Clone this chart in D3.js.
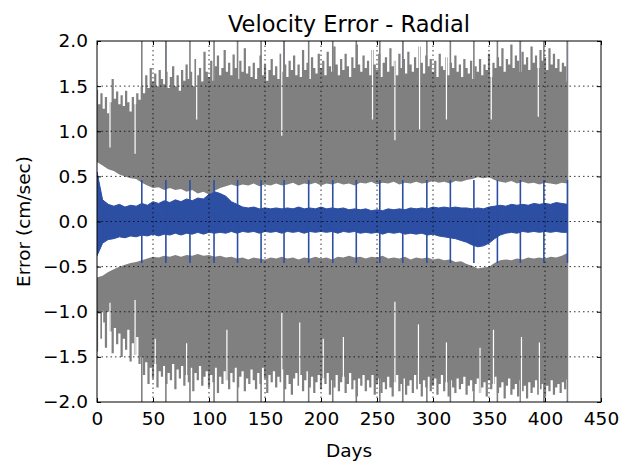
<!DOCTYPE html>
<html><head><meta charset="utf-8">
<script src="https://cdn.jsdelivr.net/npm/d3@7"></script>
<style>body{margin:0;background:#fff}svg{display:block}text{font-family:"DejaVu Sans",sans-serif}</style>
</head><body><svg id="c" width="622" height="461"></svg>
<script>
// ---- data (days, cm/sec) ----
const title = "Velocity Error - Radial";
const xLabel = "Days", yLabel = "Error (cm/sec)";
const xTicks = [0,50,100,150,200,250,300,350,400,450];
const yTicks = [-2.0,-1.5,-1.0,-0.5,0.0,0.5,1.0,1.5,2.0];
const days2 = d3.range(0, 421, 2);   // sample days of the 3-sigma outer envelopes
const days5 = d3.range(0, 421, 5);   // sample days of the inner edges and the error band
// upper 3-sigma bound, outer (peak) envelope, every 2 days
const sigHiOuter = [1.46,1.30,1.42,1.25,1.38,1.20,1.32,1.58,1.36,1.44,
 1.30,1.40,1.28,1.45,1.32,1.22,1.38,1.30,1.42,1.35,
 1.50,1.42,1.62,1.48,1.70,1.55,1.64,1.50,1.68,1.58,
 1.52,1.66,1.48,1.60,1.72,1.50,1.62,1.45,1.68,1.56,
 1.74,1.58,1.66,1.50,1.80,1.62,1.70,1.55,1.88,1.66,
 1.60,1.78,1.56,1.72,1.84,1.62,1.70,1.90,1.66,1.76,
 1.62,1.85,1.70,1.58,1.78,1.66,1.92,1.64,1.72,1.60,
 1.76,1.58,1.70,1.84,1.62,1.74,1.56,1.68,1.80,1.62,
 1.72,1.58,1.86,1.66,1.74,1.60,1.78,1.68,1.84,1.62,
 1.74,1.60,1.90,1.68,1.76,1.58,1.82,1.70,1.64,1.86,
 1.70,1.78,1.62,1.88,1.72,1.66,1.94,1.74,1.62,1.80,
 1.68,1.86,1.72,1.60,1.82,1.70,1.96,1.74,1.66,1.84,
 1.70,1.78,1.62,1.90,1.74,1.68,1.86,1.60,1.76,1.82,
 1.66,1.92,1.72,1.78,1.62,1.86,1.70,1.80,1.64,1.88,
 1.74,1.66,1.82,1.70,1.94,1.76,1.64,1.84,1.72,1.80,
 1.66,1.78,1.60,1.86,1.72,1.68,1.82,1.62,1.76,1.70,
 1.84,1.66,1.74,1.60,1.80,1.70,1.64,1.78,1.58,1.72,
 1.66,1.80,1.62,1.74,1.68,1.86,1.60,1.76,1.70,1.82,
 1.72,1.92,1.66,1.80,1.74,1.96,1.70,1.84,1.78,1.66,
 1.88,1.74,1.82,1.68,1.94,1.76,1.84,1.70,1.90,1.78,
 1.82,1.68,1.92,1.74,1.86,1.70,1.80,1.66,1.76,1.72,
 1.55];
// lower 3-sigma bound, outer (peak) envelope, every 2 days
const sigLoOuter = [-1.44,-1.02,-1.30,-1.12,-1.40,-1.00,-1.22,-1.46,-1.18,-1.36,
 -1.24,-1.50,-1.30,-1.42,-1.20,-1.55,-1.35,-1.48,-1.28,-1.58,
 -1.50,-1.70,-1.56,-1.80,-1.62,-1.74,-1.58,-1.84,-1.66,-1.72,
 -1.60,-1.80,-1.68,-1.76,-1.58,-1.86,-1.64,-1.74,-1.60,-1.82,
 -1.70,-1.78,-1.62,-1.88,-1.68,-1.76,-1.60,-1.82,-1.72,-1.66,
 -1.84,-1.70,-1.78,-1.62,-1.90,-1.72,-1.80,-1.66,-1.76,-1.86,
 -1.68,-1.78,-1.62,-1.84,-1.72,-1.66,-1.88,-1.74,-1.80,-1.64,
 -1.76,-1.86,-1.68,-1.80,-1.62,-1.74,-1.90,-1.70,-1.78,-1.66,
 -1.84,-1.72,-1.78,-1.64,-1.86,-1.70,-1.80,-1.92,-1.74,-1.68,
 -1.82,-1.70,-1.88,-1.76,-1.66,-1.84,-1.72,-1.90,-1.78,-1.70,
 -1.86,-1.74,-1.80,-1.68,-1.92,-1.76,-1.84,-1.70,-1.88,-1.78,
 -1.72,-1.90,-1.80,-1.68,-1.86,-1.76,-1.94,-1.74,-1.82,-1.70,
 -1.88,-1.76,-1.84,-1.70,-1.92,-1.80,-1.74,-1.90,-1.78,-1.86,
 -1.72,-1.84,-1.94,-1.78,-1.70,-1.88,-1.80,-1.74,-1.92,-1.82,
 -1.76,-1.90,-1.70,-1.86,-1.80,-1.94,-1.76,-1.84,-1.72,-1.88,
 -1.82,-1.74,-1.92,-1.80,-1.70,-1.88,-1.78,-1.94,-1.76,-1.84,
 -1.90,-1.74,-1.86,-1.80,-1.72,-1.92,-1.82,-1.76,-1.88,-1.80,
 -1.74,-1.90,-1.84,-1.78,-1.94,-1.76,-1.86,-1.80,-1.72,-1.90,
 -1.84,-1.78,-1.96,-1.82,-1.74,-1.92,-1.86,-1.80,-1.94,-1.76,
 -1.88,-1.82,-1.96,-1.78,-1.90,-1.84,-1.76,-1.92,-1.86,-1.80,
 -1.94,-1.82,-1.88,-1.76,-1.92,-1.84,-1.80,-1.90,-1.78,-1.86,
 -1.75];
// inner edges of the 3-sigma bands, every 5 days
const sigHiInner = [0.66,0.62,0.58,0.56,0.52,0.50,0.48,0.47,0.43,0.40,0.37,0.38,0.35,0.37,0.35,0.36,0.33,0.35,0.31,0.33,0.30,
 0.34,0.37,0.39,0.41,0.39,0.41,0.40,0.42,0.39,0.41,0.40,0.42,0.40,0.41,0.43,0.40,0.42,0.41,0.43,0.40,
 0.42,0.41,0.43,0.41,0.42,0.40,0.43,0.42,0.44,0.41,0.43,0.42,0.44,0.41,0.43,0.42,0.44,0.42,0.43,0.45,
 0.43,0.44,0.42,0.45,0.44,0.46,0.47,0.49,0.48,0.49,0.46,0.44,0.43,0.45,0.42,0.44,0.42,0.43,0.41,0.43,
 0.42,0.41,0.43,0.42];
const sigLoInner = [-0.62,-0.60,-0.56,-0.53,-0.50,-0.48,-0.46,-0.45,-0.43,-0.41,-0.39,-0.40,-0.38,-0.39,-0.37,-0.39,-0.37,-0.38,-0.36,-0.38,-0.37,
 -0.39,-0.38,-0.40,-0.39,-0.41,-0.40,-0.42,-0.40,-0.41,-0.42,-0.40,-0.41,-0.39,-0.41,-0.40,-0.42,-0.40,-0.41,-0.39,-0.41,
 -0.40,-0.42,-0.39,-0.40,-0.38,-0.40,-0.39,-0.41,-0.39,-0.40,-0.38,-0.41,-0.40,-0.41,-0.39,-0.42,-0.40,-0.41,-0.40,-0.42,
 -0.41,-0.43,-0.42,-0.45,-0.44,-0.47,-0.49,-0.52,-0.51,-0.50,-0.46,-0.43,-0.42,-0.43,-0.41,-0.42,-0.40,-0.41,-0.40,-0.41,
 -0.39,-0.40,-0.38,-0.35];
// velocity error band (max / min), every 5 days
const errHi = [0.55,0.24,0.19,0.17,0.19,0.16,0.18,0.17,0.20,0.18,0.22,0.20,0.23,0.21,0.24,0.22,0.25,0.23,0.26,0.25,0.30,
 0.33,0.31,0.28,0.22,0.19,0.16,0.15,0.16,0.14,0.15,0.14,0.15,0.14,0.15,0.14,0.16,0.14,0.15,0.14,0.16,
 0.14,0.15,0.14,0.15,0.13,0.14,0.13,0.14,0.12,0.13,0.12,0.14,0.13,0.14,0.13,0.15,0.14,0.15,0.14,0.16,
 0.15,0.16,0.15,0.16,0.15,0.15,0.14,0.15,0.14,0.16,0.17,0.18,0.17,0.19,0.18,0.19,0.18,0.20,0.19,0.20,
 0.19,0.21,0.20,0.19];
const errLo = [-0.38,-0.24,-0.20,-0.19,-0.17,-0.18,-0.16,-0.17,-0.15,-0.16,-0.14,-0.16,-0.14,-0.15,-0.13,-0.15,-0.13,-0.14,-0.12,-0.14,-0.12,
 -0.13,-0.12,-0.13,-0.11,-0.13,-0.11,-0.12,-0.11,-0.13,-0.11,-0.12,-0.11,-0.13,-0.11,-0.12,-0.11,-0.13,-0.11,-0.12,-0.11,
 -0.12,-0.11,-0.13,-0.11,-0.12,-0.11,-0.13,-0.12,-0.13,-0.12,-0.14,-0.12,-0.13,-0.12,-0.14,-0.13,-0.14,-0.13,-0.15,-0.14,
 -0.16,-0.17,-0.18,-0.19,-0.21,-0.23,-0.26,-0.28,-0.27,-0.24,-0.19,-0.15,-0.13,-0.12,-0.13,-0.11,-0.12,-0.11,-0.12,-0.11,
 -0.12,-0.11,-0.12,-0.12];
// maneuver / event days: error spikes and bound spikes
const eventDays = [40,61.5,83,104.5,125.5,146.5,167,189,210.5,231.5,252.5,273,294.5,315.5,336.5,357.5,378,399,420];
const bigEventDays = [61.5,167,273,378,420];
const eventErr = 0.46;
// days where the bounds dip (gaps in the band) and how far
const dipHiDays = [11.6,34,89,165,246,266,288,312,352,394];
const dipHiVals = [0.82,0.75,1.13,0.95,1.13,0.90,1.02,1.13,1.13,1.16];
const dipLoDays = [5,11.6,34,52,80,116,165,181,202,220,266,287,312,342,354,379,395];
const dipLoVals = [-0.99,-0.90,-0.87,-1.30,-1.35,-1.20,-1.01,-1.12,-1.30,-1.28,-0.89,-1.14,-1.34,-1.40,-1.20,-1.28,-1.34];

// ---- drawing ----
const svg = d3.select("#c");
const L = 97, R = 601, T = 41, B = 402;
const x = d3.scaleLinear().domain([0, 450]).range([L, R]);
const y = d3.scaleLinear().domain([-2, 2]).range([B, T]);
const gray = "#808080", blue = "#2c4fa3";

svg.append("clipPath").attr("id", "clip").append("rect")
  .attr("x", L).attr("y", T).attr("width", R - L).attr("height", B - T);
const g = svg.append("g").attr("clip-path", "url(#clip)");

// big error spikes (mostly hidden under the bound band)
g.selectAll(".bs").data(bigEventDays).join("line")
  .attr("x1", d => x(d)).attr("x2", d => x(d))
  .attr("y1", y(eventErr)).attr("y2", y(2.1))
  .attr("stroke", blue).attr("stroke-width", 1.3);

// bound bands
const areaOut = d3.area().curve(d3.curveStep).x((d, i) => x(days2[i])).y0(y(0)).y1(d => y(d));
g.append("path").datum(sigHiOuter).attr("d", areaOut).attr("fill", gray);
g.append("path").datum(sigLoOuter).attr("d", areaOut).attr("fill", gray);
// bound spikes at events
g.selectAll(".gs").data(eventDays).join("line")
  .attr("x1", d => x(d)).attr("x2", d => x(d))
  .attr("y1", y(-2.1)).attr("y2", y(2.1))
  .attr("stroke", gray).attr("stroke-width", 1.6);
// dips
g.selectAll(".dh").data(dipHiDays).join("line")
  .attr("x1", d => x(d)).attr("x2", d => x(d))
  .attr("y1", (d, i) => y(dipHiVals[i])).attr("y2", y(2.1))
  .attr("stroke", "#fff").attr("stroke-width", 1.2);
g.selectAll(".dl").data(dipLoDays).join("line")
  .attr("x1", d => x(d)).attr("x2", d => x(d))
  .attr("y1", (d, i) => y(dipLoVals[i])).attr("y2", y(-2.1))
  .attr("stroke", "#fff").attr("stroke-width", 1.2);
// clear region between the inner edges
const areaIn = d3.area().x((d, i) => x(days5[i])).y0((d, i) => y(sigLoInner[i])).y1(d => y(d));
g.append("path").datum(sigHiInner).attr("d", areaIn).attr("fill", "#fff");
// error band
const areaErr = d3.area().x((d, i) => x(days5[i])).y0((d, i) => y(errLo[i])).y1(d => y(d));
g.append("path").datum(errHi).attr("d", areaErr).attr("fill", blue).attr("stroke", blue).attr("stroke-width", 1);
g.selectAll(".es").data(eventDays).join("line")
  .attr("x1", d => x(d)).attr("x2", d => x(d))
  .attr("y1", y(-eventErr)).attr("y2", y(eventErr))
  .attr("stroke", blue).attr("stroke-width", 1.6);

// grid
const grid = svg.append("g").attr("stroke", "#000").attr("stroke-width", 0.8).attr("stroke-dasharray", "1.5,3");
grid.selectAll(".gx").data(xTicks.slice(1, -1)).join("line")
  .attr("x1", d => x(d)).attr("x2", d => x(d)).attr("y1", T).attr("y2", B);
grid.selectAll(".gy").data(yTicks.slice(1, -1)).join("line")
  .attr("y1", d => y(d)).attr("y2", d => y(d)).attr("x1", L).attr("x2", R);

// axes
const fmtY = d => (d < 0 ? "\u2212" : "") + Math.abs(d).toFixed(1);
const style = a => { a.select(".domain").remove(); a.selectAll("line").attr("stroke", "#000");
  a.selectAll("text").attr("font-size", 18.5).attr("fill", "#000").attr("font-family", "DejaVu Sans"); };
svg.append("g").attr("transform", `translate(0,${B})`)
  .call(d3.axisBottom(x).tickValues(xTicks).tickSize(-4).tickPadding(10).tickFormat(d3.format("d"))).call(style);
svg.append("g").attr("transform", `translate(0,${T})`)
  .call(d3.axisTop(x).tickValues(xTicks).tickSize(-4).tickFormat("")).call(style);
svg.append("g").attr("transform", `translate(${L},0)`)
  .call(d3.axisLeft(y).tickValues(yTicks).tickSize(-4).tickPadding(9).tickFormat(fmtY)).call(style);
svg.append("g").attr("transform", `translate(${R},0)`)
  .call(d3.axisRight(y).tickValues(yTicks).tickSize(-4).tickFormat("")).call(style);
svg.append("rect").attr("x", L).attr("y", T).attr("width", R - L).attr("height", B - T)
  .attr("fill", "none").attr("stroke", "#000").attr("stroke-width", 1);

// titles
svg.append("text").attr("x", (L + R) / 2).attr("y", 32).attr("text-anchor", "middle")
  .attr("font-size", 22.5).text(title);
svg.append("text").attr("x", (L + R) / 2).attr("y", 457).attr("text-anchor", "middle")
  .attr("font-size", 18.5).text(xLabel);
svg.append("text").attr("transform", `translate(30,${(T + B) / 2}) rotate(-90)`).attr("text-anchor", "middle")
  .attr("font-size", 18.5).text(yLabel);
</script></body></html>
